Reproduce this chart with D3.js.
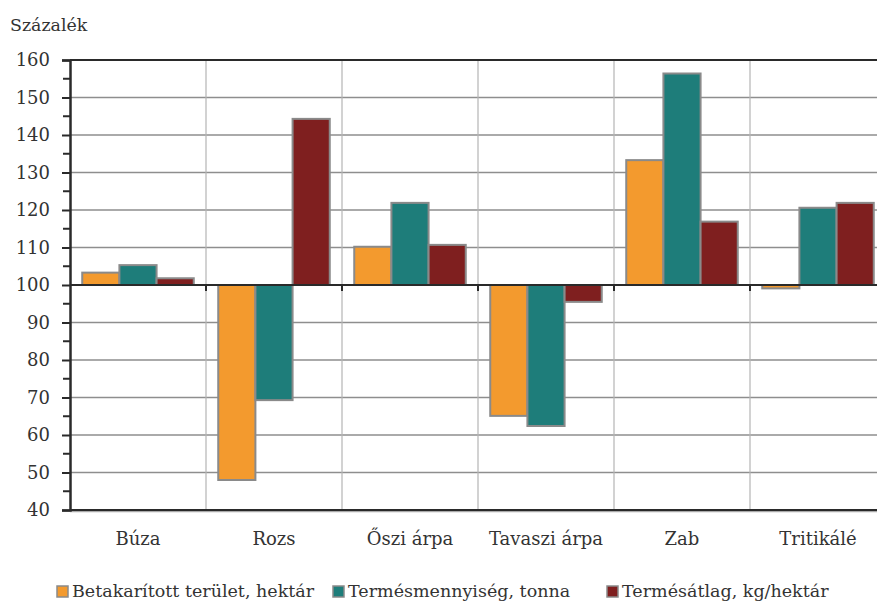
<!DOCTYPE html>
<html><head><meta charset="utf-8">
<script src="https://cdn.jsdelivr.net/npm/d3@7"></script>
<style>body{margin:0;background:#fff}svg{display:block}</style>
</head><body><svg id="c" width="877" height="601"></svg>
<script>
const categories = ["Búza","Rozs","Őszi árpa","Tavaszi árpa","Zab","Tritikálé"];
const seriesNames = ["Betakarított terület, hektár","Termésmennyiség, tonna","Termésátlag, kg/hektár"];
const area = [103.3, 48.0, 110.2, 65.1, 133.3, 99.1];
const volume = [105.3, 69.3, 121.9, 62.4, 156.4, 120.6];
const yieldAvg = [101.8, 144.3, 110.7, 95.5, 116.9, 121.9];
const yTicks = [40,50,60,70,80,90,100,110,120,130,140,150,160];
const colors = ["#F39A2E","#1E7D7A","#7F1F1F"];
const series = [area, volume, yieldAvg];
const FONT = "'DejaVu Serif', serif";

const svg = d3.select("#c");
const x0 = 70, x1 = 886, yTop = 60, yBot = 510;
const x = d3.scaleBand().domain(categories).range([x0, x1]).paddingInner(0.18).paddingOuter(0.09);
const xs = d3.scaleBand().domain([0,1,2]).range([0, x.bandwidth()]);
const y = d3.scaleLinear().domain([40,160]).range([yBot, yTop]);
const step = x.step();

svg.append("g").selectAll("line").data(yTicks.filter(t=>t>40 && t<160 && t!==100)).join("line")
  .attr("x1", x0).attr("x2", x1).attr("y1", d=>y(d)).attr("y2", d=>y(d))
  .attr("stroke", "#8e8e8e").attr("stroke-width", 1.5);
svg.append("g").selectAll("line").data(d3.range(1, categories.length)).join("line")
  .attr("x1", i=>x0+i*step).attr("x2", i=>x0+i*step).attr("y1", yTop).attr("y2", yBot)
  .attr("stroke", "#b4b4b4").attr("stroke-width", 1.2);
svg.append("line").attr("x1", x0).attr("x2", x1).attr("y1", y(160)).attr("y2", y(160)).attr("stroke", "#2a2a2a").attr("stroke-width", 2);
svg.append("line").attr("x1", x0).attr("x2", x1).attr("y1", y(40)+1.5).attr("y2", y(40)+1.5).attr("stroke", "#aaa").attr("stroke-width", 1.5);
svg.append("line").attr("x1", x0).attr("x2", x1).attr("y1", y(40)).attr("y2", y(40)).attr("stroke", "#2a2a2a").attr("stroke-width", 2);

const g = svg.append("g");
series.forEach((vals, si) => {
  g.selectAll(null).data(vals).join("rect")
    .attr("x", (d,i)=>x(categories[i]) + xs(si))
    .attr("width", xs.bandwidth())
    .attr("y", d=>y(Math.max(d,100)))
    .attr("height", d=>Math.abs(y(d)-y(100)))
    .attr("fill", colors[si]).attr("stroke", "#8a8a8a").attr("stroke-width", 2);
});

svg.append("line").attr("x1", x0).attr("x2", x1).attr("y1", y(100)).attr("y2", y(100)).attr("stroke", "#2a2a2a").attr("stroke-width", 2);
svg.append("g").selectAll("line").data(d3.range(1, categories.length)).join("line")
  .attr("x1", i=>x0+i*step).attr("x2", i=>x0+i*step).attr("y1", y(100)).attr("y2", y(100)+6)
  .attr("stroke", "#2a2a2a").attr("stroke-width", 2);

const yAxis = d3.axisLeft(y).tickValues(yTicks).tickSize(8).tickPadding(12);
const ya = svg.append("g").attr("transform", `translate(${x0},0)`).call(yAxis)
  .attr("font-family", FONT).attr("font-size", 18);
ya.select(".domain").attr("stroke", "#2a2a2a").attr("stroke-width", 2.5);
ya.selectAll(".tick line").attr("stroke", "#2a2a2a").attr("stroke-width", 2);
ya.selectAll(".tick text").attr("fill", "#333");
svg.append("g").selectAll("line").data(d3.range(45,160,10)).join("line")
  .attr("x1", x0-7).attr("x2", x0).attr("y1", d=>y(d)).attr("y2", d=>y(d))
  .attr("stroke", "#2a2a2a").attr("stroke-width", 2);

const txt = svg.append("g").attr("font-family", FONT).attr("fill", "#333");
txt.selectAll("text.cat").data(categories).join("text").attr("class","cat")
  .attr("x", d=>x0 + categories.indexOf(d)*step + step/2).attr("y", 545)
  .attr("text-anchor", "middle").attr("font-size", 18).text(d=>d);

txt.append("text").attr("x", 10).attr("y", 31).attr("font-size", 17.4).text("Százalék");

const legX = [57, 333, 607];
seriesNames.forEach((n, i) => {
  txt.append("rect").attr("x", legX[i]).attr("y", 586).attr("width", 11).attr("height", 11)
    .attr("fill", colors[i]).attr("stroke", "#8a8a8a").attr("stroke-width", 1.5);
  txt.append("text").attr("x", legX[i]+15).attr("y", 597).attr("font-size", 17.5).text(n);
});
</script></body></html>
